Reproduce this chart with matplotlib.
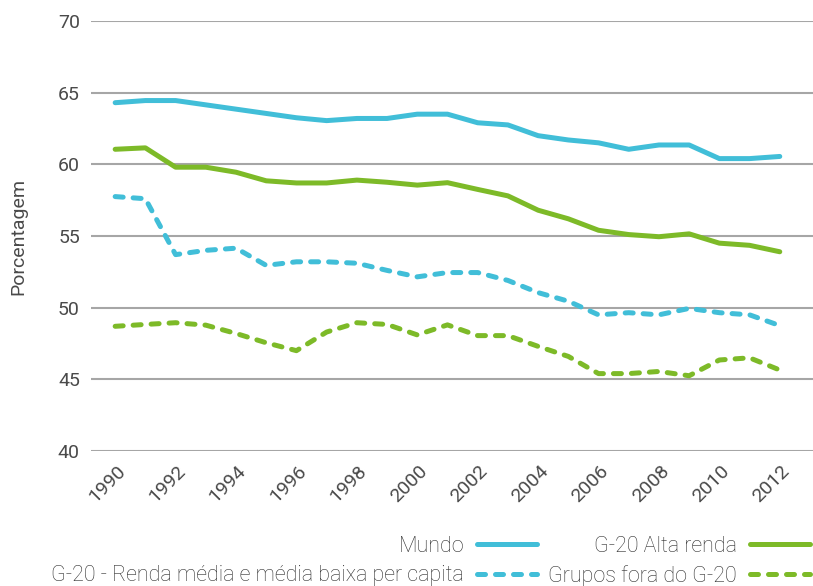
import numpy as np
import matplotlib
matplotlib.use("Agg")
import matplotlib.pyplot as plt
import matplotlib.transforms as mtransforms

plt.rcParams["font.family"] = ["Roboto", "DejaVu Sans"]
plt.rcParams["font.weight"] = "light"

TEXT = "#2e2e2e"
TICK = "#4a4a4a"
GRID = "#a6a6a6"
BLUE = "#41bed8"
GREEN = "#7dba28"

years = list(range(1990, 2013))

mundo = [64.3, 64.45, 64.45, 64.15, 63.85, 63.55, 63.25, 63.05, 63.2, 63.2, 63.5, 63.5,
         62.9, 62.75, 62.0, 61.7, 61.5, 61.05, 61.35, 61.35, 60.4, 60.4, 60.55]
g20_alta = [61.05, 61.15, 59.8, 59.8, 59.45, 58.85, 58.7, 58.7, 58.9, 58.75, 58.55, 58.72,
            58.25, 57.8, 56.8, 56.2, 55.4, 55.1, 54.95, 55.15, 54.5, 54.35, 53.9]
g20_media = [57.75, 57.6, 53.7, 54.0, 54.15, 52.95, 53.2, 53.2, 53.1, 52.6, 52.15, 52.45,
             52.45, 51.9, 51.05, 50.45, 49.5, 49.65, 49.5, 49.95, 49.65, 49.5, 48.75]
fora_g20 = [48.7, 48.83, 48.95, 48.78, 48.2, 47.55, 47.0, 48.3, 48.95, 48.83, 48.1, 48.8,
            48.05, 48.05, 47.3, 46.6, 45.4, 45.4, 45.55, 45.25, 46.35, 46.5, 45.65]

yticks = [40, 45, 50, 55, 60, 65, 70]
xticks = list(range(1990, 2013, 2))

fig = plt.figure(figsize=(8.13, 5.86), dpi=100)
ax = fig.add_axes([91 / 813, 1 - 451 / 586, 1 - 91 / 813, (451 - 21) / 586])

lw = 3.6
dash = (0, (1.6, 2.0))
ax.plot(years, mundo, color=BLUE, lw=lw, solid_capstyle="round", label="Mundo")
ax.plot(years, g20_media, color=BLUE, lw=lw, ls=dash, dash_capstyle="round",
        label="G-20 - Renda média e média baixa per capita")
ax.plot(years, g20_alta, color=GREEN, lw=lw, solid_capstyle="round", label="G-20 Alta renda")
ax.plot(years, fora_g20, color=GREEN, lw=lw, ls=dash, dash_capstyle="round",
        label="Grupos fora do G-20")

ax.set_xlim(1989.2, 2013.1)
ax.set_ylim(40, 70)
ax.set_yticks(yticks)
ax.set_xticks(xticks)
ax.grid(axis="y", color=GRID, lw=1.5)
ax.set_axisbelow(True)
for s in ax.spines.values():
    s.set_visible(False)
ax.tick_params(axis="both", length=0, colors=TICK, labelsize=14)
ax.tick_params(axis="y", pad=8)
ax.tick_params(axis="x", pad=8)

offset = mtransforms.ScaledTranslation(1 / 100, 0, fig.dpi_scale_trans)
for lbl in ax.get_xticklabels() + ax.get_yticklabels():
    lbl.set_fontweight("normal")
for lbl in ax.get_xticklabels():
    lbl.set_rotation(45)
    lbl.set_ha("right")
    lbl.set_va("top")
    lbl.set_rotation_mode("anchor")
    lbl.set_transform(lbl.get_transform() + offset)

ax.set_ylabel("Porcentagem", fontsize=14, color=TICK, labelpad=22, fontweight="normal")

leg = ax.legend(loc="lower right", bbox_to_anchor=(810 / 813, -1 / 586),
                bbox_transform=fig.transFigure, ncol=2, frameon=False,
                markerfirst=False, fontsize=15.5, handlelength=2.8,
                handletextpad=0.6, columnspacing=0.5, labelspacing=0.4,
                borderpad=0, borderaxespad=0)
for t in leg.get_texts():
    t.set_color(TEXT)

fig.savefig("out.png", dpi=100)
